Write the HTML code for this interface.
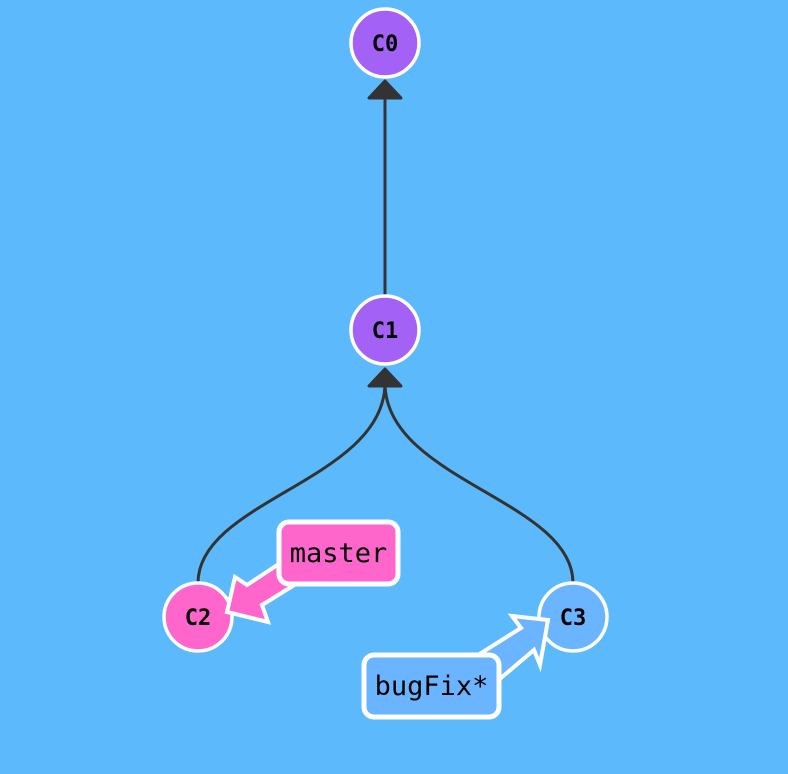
<!DOCTYPE html>
<html><head><style>
html,body{margin:0;padding:0;background:#5cbafc;}
svg{display:block}
text{font-family:"DejaVu Sans Mono","Liberation Mono",monospace;}
</style></head><body>
<svg width="788" height="774" viewBox="0 0 788 774" xmlns="http://www.w3.org/2000/svg">
<rect width="788" height="774" fill="#5cbafc"/>
<g stroke="#333" stroke-width="3" fill="none">
<line x1="385" y1="296" x2="385" y2="95"/>
<path d="M198,583 C198,500 385,480 385,383"/>
<path d="M573,583 C573,500 385,480 385,383"/>
</g>
<g fill="#333" stroke="#333" stroke-width="3" stroke-linejoin="round">
<polygon points="385,81 369,98 401,98"/>
<polygon points="385,369 369,386 401,386"/>
</g>
<g stroke="#fff" stroke-width="3.5">
<circle cx="385" cy="43" r="34" fill="#a461f6"/>
<circle cx="385" cy="330" r="34" fill="#a461f6"/>
<circle cx="198" cy="617" r="34" fill="#ff66cc"/>
<circle cx="573" cy="617" r="34" fill="#6bb4ff"/>
</g>
<g font-size="22" font-weight="bold" text-anchor="middle" fill="#000">
<text x="385" y="51">C0</text>
<text x="385" y="338">C1</text>
<text x="198" y="625">C2</text>
<text x="573" y="625">C3</text>
</g>
<g stroke="#fff" stroke-width="4" stroke-linejoin="miter">
<polygon points="227,612 235,577 247,585 285,560 296,584 262,605 268,622" fill="#ff66cc"/>
<polygon points="548,620 512,616 521,628 470,660 495,683 534,650 540,665" fill="#6bb4ff"/>
</g>
<rect x="279" y="522" width="119" height="62" rx="10" fill="#ff66cc" stroke="#fff" stroke-width="5"/>
<rect x="364" y="655" width="135" height="62" rx="10" fill="#6bb4ff" stroke="#fff" stroke-width="5"/>
<g font-size="27" fill="#000">
<text x="338.5" y="562" text-anchor="middle">master</text>
<text x="431.5" y="695" text-anchor="middle">bugFix*</text>
</g>
</svg>
</body></html>
